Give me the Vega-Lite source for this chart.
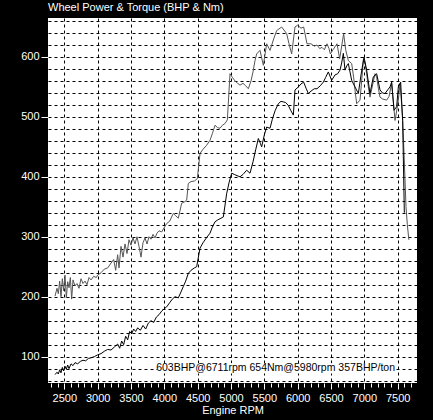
{
  "$schema": "https://vega.github.io/schema/vega-lite/v6.json",
  "width": 369,
  "height": 365,
  "autosize": {"type": "none"},
  "padding": {"left": 48, "top": 18, "right": 16, "bottom": 37},
  "background": "black",
  "config": {"view": {"fill": "white", "stroke": null}, "font": "Liberation Sans"},
  "title": {"text": "Wheel Power & Torque (BHP & Nm)", "anchor": "start", "frame": "group", "color": "white", "fontSize": 11, "fontWeight": "normal", "offset": 2},
  "datasets": {
    "torque": [
      {"rpm":2360,"nm":201},{"rpm":2390,"nm":214},{"rpm":2410,"nm":205},{"rpm":2430,"nm":226},{"rpm":2450,"nm":200},{"rpm":2470,"nm":230},{"rpm":2490,"nm":210},{"rpm":2510,"nm":236},{"rpm":2530,"nm":198},{"rpm":2550,"nm":225},{"rpm":2570,"nm":215},{"rpm":2590,"nm":232},{"rpm":2610,"nm":196},{"rpm":2630,"nm":228},{"rpm":2660,"nm":218},{"rpm":2690,"nm":222},{"rpm":2720,"nm":214},{"rpm":2750,"nm":230},{"rpm":2780,"nm":222},{"rpm":2810,"nm":226},{"rpm":2840,"nm":220},{"rpm":2870,"nm":232},{"rpm":2900,"nm":228},{"rpm":2940,"nm":234},{"rpm":2980,"nm":232},{"rpm":3000,"nm":236},{"rpm":3050,"nm":240},{"rpm":3100,"nm":246},{"rpm":3150,"nm":248},{"rpm":3200,"nm":256},{"rpm":3240,"nm":262},{"rpm":3270,"nm":244},{"rpm":3300,"nm":270},{"rpm":3320,"nm":248},{"rpm":3350,"nm":284},{"rpm":3380,"nm":266},{"rpm":3410,"nm":288},{"rpm":3440,"nm":272},{"rpm":3470,"nm":295},{"rpm":3500,"nm":286},{"rpm":3530,"nm":298},{"rpm":3560,"nm":288},{"rpm":3590,"nm":300},{"rpm":3620,"nm":284},{"rpm":3650,"nm":266},{"rpm":3680,"nm":290},{"rpm":3710,"nm":298},{"rpm":3740,"nm":288},{"rpm":3770,"nm":300},{"rpm":3800,"nm":296},{"rpm":3830,"nm":304},{"rpm":3860,"nm":298},{"rpm":3890,"nm":306},{"rpm":3920,"nm":310},{"rpm":3960,"nm":308},{"rpm":4035,"nm":322},{"rpm":4080,"nm":326},{"rpm":4135,"nm":339},{"rpm":4170,"nm":335},{"rpm":4210,"nm":331},{"rpm":4260,"nm":356},{"rpm":4300,"nm":358},{"rpm":4335,"nm":361},{"rpm":4360,"nm":389},{"rpm":4400,"nm":392},{"rpm":4450,"nm":393},{"rpm":4495,"nm":397},{"rpm":4535,"nm":439},{"rpm":4580,"nm":446},{"rpm":4630,"nm":452},{"rpm":4685,"nm":461},{"rpm":4720,"nm":472},{"rpm":4760,"nm":486},{"rpm":4800,"nm":482},{"rpm":4835,"nm":481},{"rpm":4870,"nm":486},{"rpm":4910,"nm":489},{"rpm":4945,"nm":495},{"rpm":4985,"nm":572},{"rpm":5020,"nm":566},{"rpm":5060,"nm":560},{"rpm":5100,"nm":556},{"rpm":5135,"nm":553},{"rpm":5180,"nm":556},{"rpm":5220,"nm":552},{"rpm":5260,"nm":547},{"rpm":5300,"nm":560},{"rpm":5330,"nm":575},{"rpm":5360,"nm":594},{"rpm":5385,"nm":605},{"rpm":5435,"nm":611},{"rpm":5485,"nm":586},{"rpm":5535,"nm":622},{"rpm":5585,"nm":611},{"rpm":5640,"nm":630},{"rpm":5685,"nm":644},{"rpm":5760,"nm":650},{"rpm":5835,"nm":639},{"rpm":5870,"nm":622},{"rpm":5910,"nm":605},{"rpm":5960,"nm":650},{"rpm":6000,"nm":653},{"rpm":6050,"nm":648},{"rpm":6090,"nm":650},{"rpm":6140,"nm":622},{"rpm":6200,"nm":622},{"rpm":6250,"nm":618},{"rpm":6290,"nm":620},{"rpm":6330,"nm":614},{"rpm":6365,"nm":616},{"rpm":6400,"nm":612},{"rpm":6440,"nm":622},{"rpm":6470,"nm":614},{"rpm":6490,"nm":605},{"rpm":6530,"nm":612},{"rpm":6590,"nm":622},{"rpm":6630,"nm":597},{"rpm":6690,"nm":639},{"rpm":6720,"nm":612},{"rpm":6760,"nm":594},{"rpm":6810,"nm":589},{"rpm":6840,"nm":566},{"rpm":6860,"nm":545},{"rpm":6885,"nm":522},{"rpm":6935,"nm":528},{"rpm":6960,"nm":560},{"rpm":6985,"nm":594},{"rpm":7010,"nm":590},{"rpm":7035,"nm":572},{"rpm":7060,"nm":550},{"rpm":7085,"nm":533},{"rpm":7110,"nm":546},{"rpm":7160,"nm":572},{"rpm":7185,"nm":566},{"rpm":7210,"nm":548},{"rpm":7235,"nm":533},{"rpm":7270,"nm":530},{"rpm":7335,"nm":528},{"rpm":7370,"nm":534},{"rpm":7410,"nm":556},{"rpm":7440,"nm":520},{"rpm":7460,"nm":494},{"rpm":7485,"nm":510},{"rpm":7510,"nm":528},{"rpm":7535,"nm":556},{"rpm":7560,"nm":520},{"rpm":7575,"nm":494},{"rpm":7595,"nm":440},{"rpm":7625,"nm":350},{"rpm":7645,"nm":320},{"rpm":7668,"nm":295}
    ],
    "power": [
      {"rpm":2360,"bhp":70},{"rpm":2390,"bhp":74},{"rpm":2410,"bhp":71},{"rpm":2430,"bhp":78},{"rpm":2450,"bhp":73},{"rpm":2470,"bhp":82},{"rpm":2490,"bhp":76},{"rpm":2510,"bhp":84},{"rpm":2530,"bhp":79},{"rpm":2550,"bhp":86},{"rpm":2570,"bhp":80},{"rpm":2600,"bhp":88},{"rpm":2630,"bhp":85},{"rpm":2660,"bhp":90},{"rpm":2700,"bhp":88},{"rpm":2740,"bhp":92},{"rpm":2780,"bhp":94},{"rpm":2820,"bhp":93},{"rpm":2860,"bhp":97},{"rpm":2900,"bhp":98},{"rpm":2950,"bhp":100},{"rpm":3000,"bhp":103},{"rpm":3050,"bhp":105},{"rpm":3100,"bhp":109},{"rpm":3150,"bhp":112},{"rpm":3200,"bhp":111},{"rpm":3250,"bhp":116},{"rpm":3300,"bhp":121},{"rpm":3330,"bhp":114},{"rpm":3360,"bhp":126},{"rpm":3390,"bhp":120},{"rpm":3420,"bhp":134},{"rpm":3450,"bhp":128},{"rpm":3480,"bhp":142},{"rpm":3510,"bhp":138},{"rpm":3540,"bhp":146},{"rpm":3570,"bhp":142},{"rpm":3600,"bhp":148},{"rpm":3640,"bhp":144},{"rpm":3680,"bhp":152},{"rpm":3720,"bhp":146},{"rpm":3760,"bhp":156},{"rpm":3800,"bhp":160},{"rpm":3840,"bhp":157},{"rpm":3880,"bhp":166},{"rpm":3920,"bhp":170},{"rpm":3960,"bhp":176},{"rpm":4000,"bhp":180},{"rpm":4035,"bhp":183},{"rpm":4080,"bhp":190},{"rpm":4120,"bhp":196},{"rpm":4160,"bhp":200},{"rpm":4210,"bhp":198},{"rpm":4250,"bhp":208},{"rpm":4285,"bhp":217},{"rpm":4320,"bhp":226},{"rpm":4360,"bhp":239},{"rpm":4400,"bhp":244},{"rpm":4450,"bhp":248},{"rpm":4485,"bhp":250},{"rpm":4535,"bhp":281},{"rpm":4580,"bhp":290},{"rpm":4630,"bhp":298},{"rpm":4685,"bhp":306},{"rpm":4720,"bhp":316},{"rpm":4760,"bhp":325},{"rpm":4800,"bhp":328},{"rpm":4850,"bhp":331},{"rpm":4885,"bhp":333},{"rpm":4935,"bhp":372},{"rpm":4970,"bhp":390},{"rpm":5010,"bhp":406},{"rpm":5050,"bhp":404},{"rpm":5090,"bhp":402},{"rpm":5135,"bhp":400},{"rpm":5180,"bhp":404},{"rpm":5235,"bhp":411},{"rpm":5285,"bhp":406},{"rpm":5330,"bhp":425},{"rpm":5370,"bhp":445},{"rpm":5410,"bhp":464},{"rpm":5440,"bhp":456},{"rpm":5460,"bhp":450},{"rpm":5500,"bhp":470},{"rpm":5535,"bhp":483},{"rpm":5585,"bhp":481},{"rpm":5620,"bhp":496},{"rpm":5660,"bhp":510},{"rpm":5710,"bhp":522},{"rpm":5750,"bhp":526},{"rpm":5785,"bhp":525},{"rpm":5820,"bhp":524},{"rpm":5860,"bhp":519},{"rpm":5900,"bhp":510},{"rpm":5935,"bhp":503},{"rpm":5960,"bhp":545},{"rpm":6010,"bhp":550},{"rpm":6050,"bhp":555},{"rpm":6090,"bhp":558},{"rpm":6125,"bhp":548},{"rpm":6160,"bhp":539},{"rpm":6200,"bhp":543},{"rpm":6250,"bhp":547},{"rpm":6290,"bhp":547},{"rpm":6340,"bhp":552},{"rpm":6385,"bhp":558},{"rpm":6420,"bhp":566},{"rpm":6460,"bhp":575},{"rpm":6510,"bhp":561},{"rpm":6560,"bhp":570},{"rpm":6600,"bhp":572},{"rpm":6635,"bhp":578},{"rpm":6660,"bhp":590},{"rpm":6685,"bhp":606},{"rpm":6710,"bhp":578},{"rpm":6735,"bhp":585},{"rpm":6760,"bhp":589},{"rpm":6785,"bhp":575},{"rpm":6810,"bhp":561},{"rpm":6860,"bhp":550},{"rpm":6910,"bhp":539},{"rpm":6950,"bhp":570},{"rpm":6995,"bhp":600},{"rpm":7035,"bhp":578},{"rpm":7085,"bhp":539},{"rpm":7135,"bhp":567},{"rpm":7185,"bhp":572},{"rpm":7235,"bhp":545},{"rpm":7270,"bhp":540},{"rpm":7310,"bhp":539},{"rpm":7350,"bhp":545},{"rpm":7385,"bhp":550},{"rpm":7410,"bhp":558},{"rpm":7445,"bhp":511},{"rpm":7485,"bhp":517},{"rpm":7510,"bhp":550},{"rpm":7545,"bhp":558},{"rpm":7575,"bhp":494},{"rpm":7600,"bhp":340}
    ],
    "note": [{"label": "603BHP@6711rpm 654Nm@5980rpm 357BHP/ton", "x1": 3895, "x2": 7460, "y1": 72, "y2": 89}]
  },
  "layer": [
    {
      "data": {"name": "torque"},
      "mark": {"type": "line", "color": "#555555", "strokeWidth": 1},
      "encoding": {
        "x": {
          "field": "rpm", "type": "quantitative",
          "scale": {"domain": [2255, 7790], "nice": false, "zero": false},
          "axis": {
            "values": [2300,2400,2500,2600,2700,2800,2900,3000,3100,3200,3300,3400,3500,3600,3700,3800,3900,4000,4100,4200,4300,4400,4500,4600,4700,4800,4900,5000,5100,5200,5300,5400,5500,5600,5700,5800,5900,6000,6100,6200,6300,6400,6500,6600,6700,6800,6900,7000,7100,7200,7300,7400,7500,7600,7700],
            "tickCount": 200,
            "title": "Engine RPM", "titleColor": "white", "titleFontSize": 11, "titleFontWeight": "normal", "titlePadding": 1,
            "labelExpr": "datum.value % 500 === 0 ? datum.value : ''",
            "labelOverlap": false, "labelColor": "white", "labelFontSize": 11, "labelPadding": 3,
            "format": "d",
            "domain": false,
            "tickColor": "white",
            "tickSize": {"condition": {"test": "datum.value % 500 === 0", "value": 6}, "value": 4},
            "grid": true, "gridColor": "black", "gridDash": [3, 3],
            "gridOpacity": {"condition": {"test": "datum.value % 500 === 0", "value": 1}, "value": 0}
          }
        },
        "y": {
          "field": "nm", "type": "quantitative",
          "scale": {"domain": [56, 665], "nice": false, "zero": false},
          "axis": {
            "values": [60,80,100,120,140,160,180,200,220,240,260,280,300,320,340,360,380,400,420,440,460,480,500,520,540,560,580,600,620,640,660],
            "tickCount": 200,
            "title": null,
            "labelExpr": "datum.value % 100 === 0 ? datum.value : ''",
            "labelOverlap": false, "labelColor": "white", "labelFontSize": 11, "labelPadding": 2,
            "domain": false,
            "tickColor": "white", "tickSize": 7,
            "tickOpacity": {"condition": {"test": "datum.value % 100 === 0", "value": 1}, "value": 0},
            "grid": true, "gridColor": "black", "gridDash": [3, 3], "gridOpacity": 1
          }
        }
      }
    },
    {
      "data": {"name": "power"},
      "mark": {"type": "line", "color": "black", "strokeWidth": 1},
      "encoding": {
        "x": {"field": "rpm", "type": "quantitative"},
        "y": {"field": "bhp", "type": "quantitative"}
      }
    },
    {
      "data": {"name": "note"},
      "mark": {"type": "rect", "color": "white"},
      "encoding": {
        "x": {"field": "x1", "type": "quantitative"},
        "x2": {"field": "x2"},
        "y": {"field": "y1", "type": "quantitative"},
        "y2": {"field": "y2"}
      }
    },
    {
      "data": {"name": "note"},
      "mark": {"type": "text", "align": "right", "baseline": "middle", "fontSize": 10.5, "color": "black"},
      "encoding": {
        "x": {"field": "x2", "type": "quantitative"},
        "y": {"datum": 81},
        "text": {"field": "label"}
      }
    }
  ]
}
